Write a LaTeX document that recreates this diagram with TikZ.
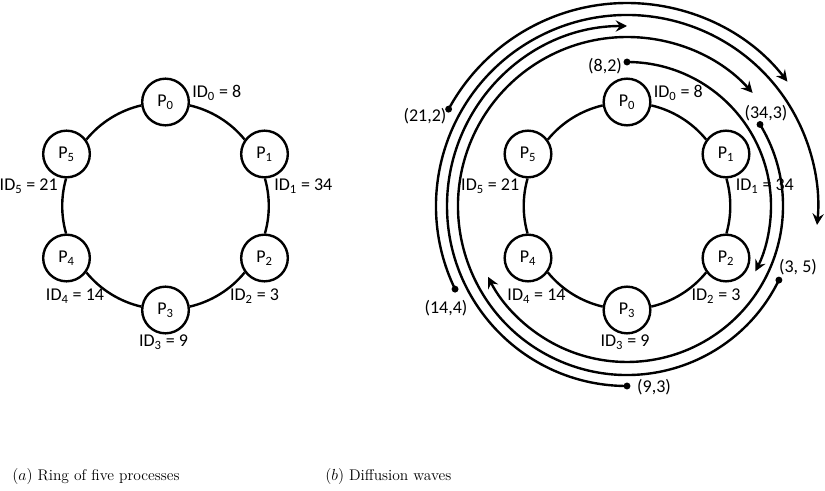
\documentclass[tikz,border=0pt]{standalone}
\usepackage{fontspec}
\usepackage{tikz}
\usetikzlibrary{arrows.meta}
\newfontfamily\lblfont{Carlito}

\begin{document}
\begin{tikzpicture}[x=0.75pt, y=0.75pt,
  proc/.style={draw, circle, line width=1.8pt, minimum size=35pt, inner sep=0pt, font=\lblfont\fontsize{13.5}{16}\selectfont},
  idlbl/.style={inner sep=0pt, font=\lblfont\fontsize{13.5}{16}\selectfont},
  ring/.style={line width=1.8pt, looseness=0.87},
  wave/.style={line width=1.8pt, -{Stealth[length=8.5pt, width=8.5pt, inset=3pt]}},
  wlbl/.style={inner sep=0pt, font=\lblfont\fontsize{13.5}{16}\selectfont},
  capt/.style={inner sep=0pt, font=\fontsize{11.6}{14}\selectfont}]
\useasboundingbox (0,0) rectangle (825,490);

% the two rings of processes
\foreach \r/\cx in {a/165.5, b/627} {
  \begin{scope}[shift={(\cx,284)}]
    \node[proc] (\r0) at (0,104) {P\textsubscript{0}};
    \node[proc] (\r1) at (99,52) {P\textsubscript{1}};
    \node[proc] (\r2) at (99,-52) {P\textsubscript{2}};
    \node[proc] (\r3) at (0,-104) {P\textsubscript{3}};
    \node[proc] (\r4) at (-99,-52) {P\textsubscript{4}};
    \node[proc] (\r5) at (-99,52) {P\textsubscript{5}};
    \draw[ring] (\r0.-8) to[out=-13, in=129] (\r1.144);
    \draw[ring] (\r1.-89) to[out=-74, in=74] (\r2.89);
    \draw[ring] (\r2.-144) to[out=-129, in=13] (\r3.8);
    \draw[ring] (\r3.172) to[out=167, in=-51] (\r4.-36);
    \draw[ring] (\r4.91) to[out=106, in=-106] (\r5.-91);
    \draw[ring] (\r5.36) to[out=51, in=-167] (\r0.188);
    \node[idlbl, anchor=west] (\r-id0) at (26.5,113) {ID\textsubscript{0} = 8};
    \node[idlbl, anchor=west] (\r-id1) at (108.5,20) {ID\textsubscript{1} = 34};
    \node[idlbl] (\r-id2) at (89,-90) {ID\textsubscript{2} = 3};
    \node[idlbl] (\r-id3) at (-2,-136) {ID\textsubscript{3} = 9};
    \node[idlbl] (\r-id4) at (-90.5,-90) {ID\textsubscript{4} = 14};
    \node[idlbl, anchor=east] (\r-id5) at (-107.5,20) {ID\textsubscript{5} = 21};
  \end{scope}
}

% diffusion waves round ring b
\begin{scope}[shift={(627,284)}]
  \coordinate (d82) at (90:144);
  \coordinate (d343) at (31.5:156);
  \coordinate (d35) at (-26:169);
  \coordinate (d93) at (-90:180);
  \coordinate (d144) at (-154.2:191);
  \coordinate (d212) at (151.5:203);
  \draw[wave] (d82) arc[start angle=90, end angle=-27, radius=144];
  \draw[wave] (d343) arc[start angle=31.5, end angle=-153, radius=156];
  \draw[wave] (d35) arc[start angle=-26, end angle=-318, radius=169];
  \draw[wave] (d93) arc[start angle=-90, end angle=-270, radius=180];
  \draw[wave] (d144) arc[start angle=-154.2, end angle=-365.7, radius=191];
  \draw[wave] (d212) arc[start angle=151.5, end angle=37.8, radius=203];
  \foreach \d in {d82, d343, d35, d93, d144, d212}
    \fill (\d) circle[radius=2.6pt];
  \node[wlbl] (w82) at (-22,140) {(8,2)};
  \node[wlbl] (w343) at (139,93) {(34,3)};
  \node[wlbl] (w35) at (171,-61) {(3, 5)};
  \node[wlbl] (w93) at (27,-181) {(9,3)};
  \node[wlbl] (w144) at (-181,-102) {(14,4)};
  \node[wlbl] (w212) at (-202,90) {(21,2)};
\end{scope}

% captions
\node[capt, anchor=west] (capa) at (12,14) {$(a)$ Ring of five processes};
\node[capt, anchor=west] (capb) at (325,14) {$(b)$ Diffusion waves};
\end{tikzpicture}
\end{document}
